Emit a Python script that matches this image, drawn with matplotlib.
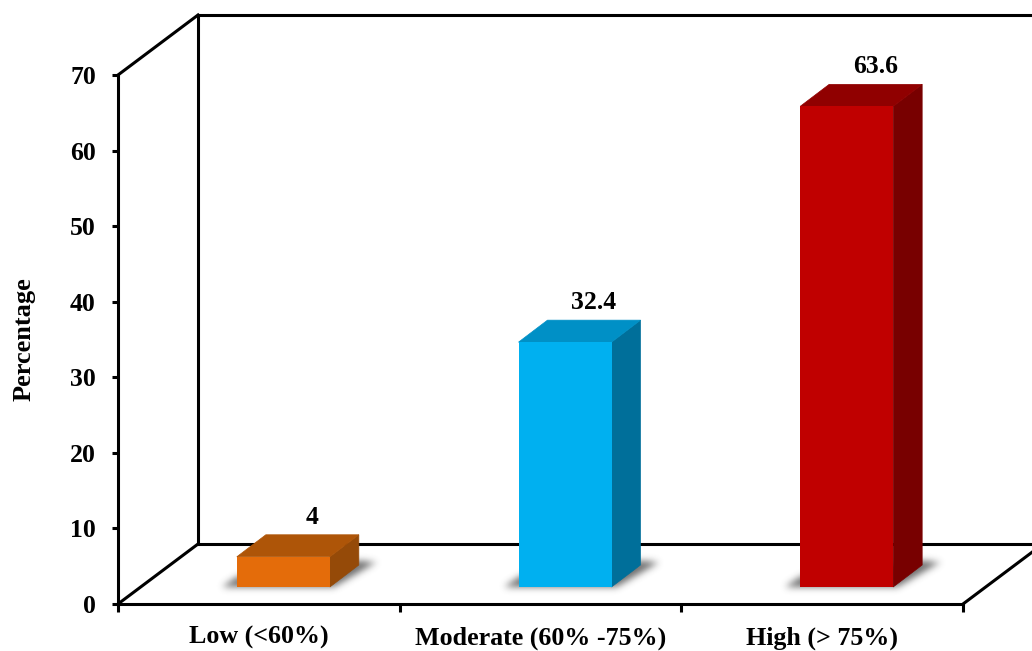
import numpy as np
import matplotlib
matplotlib.use('Agg')
import matplotlib.pyplot as plt
from matplotlib.path import Path

categories = ['Low (<60%)', 'Moderate (60% -75%)', 'High (> 75%)']
values = [4, 32.4, 63.6]
labels = ['4', '32.4', '63.6']
yticks = [0, 10, 20, 30, 40, 50, 60, 70]

front_colors = ['#E46C0A', '#00B0F0', '#C00000']
top_colors = ['#AE5508', '#0090C6', '#900000']
side_colors = ['#954A08', '#006F9A', '#780000']

plt.rcParams['font.family'] = ['Liberation Serif', 'DejaVu Serif']
plt.rcParams['font.weight'] = 'bold'

W, H = 1032., 651.
fig = plt.figure(figsize=(W/100, H/100), dpi=100)
ax = fig.add_axes([118/W, (H-604)/H, 845/W, 529/H])
ax.set_xlim(0, 3)
ax.set_ylim(0, 70)

# pixel sizes turned into data units
px = 3/845.
py = 70/529.
wall_dx = 80*px
wall_dy = 60*py
bar_dx = 24.5*px
bar_dy = 17*py
depth_dx = 29*px
depth_dy = 22*py
bar_w = 93*px

def draw_shadow(sx, sy):
    # polygon mask blurred on a 1 px grid, drawn as an image on the floor
    x0, x1 = min(sx)-16*px, max(sx)+16*px
    y0, y1 = min(sy)-16*py, max(sy)+16*py
    xs = np.arange(x0, x1, px)
    ys = np.arange(y0, y1, py)
    xg, yg = np.meshgrid(xs, ys)
    pts = np.column_stack([xg.ravel(), yg.ravel()])
    mask = Path(np.column_stack([sx, sy])).contains_points(pts).reshape(xg.shape).astype(float)
    kern = np.exp(-np.arange(-10, 11)**2/(2*3.5**2))
    kern = kern/kern.sum()
    mask = np.apply_along_axis(lambda r: np.convolve(r, kern, mode='same'), 0, mask)
    mask = np.apply_along_axis(lambda r: np.convolve(r, kern, mode='same'), 1, mask)
    rgba = np.zeros(mask.shape + (4,))
    rgba[..., :3] = 0.25
    rgba[..., 3] = mask*0.75
    ax.imshow(rgba, extent=[x0, x1, y0, y1], origin='lower', aspect='auto',
              zorder=2, interpolation='bilinear')

# walls of the 3d box
lw = 2.2
wall = dict(color='black', lw=lw, clip_on=False, zorder=1, solid_capstyle='projecting')
ax.plot([0, wall_dx], [0, wall_dy], **wall)
ax.plot([0, wall_dx], [70, 70+wall_dy], **wall)
ax.plot([wall_dx, wall_dx], [wall_dy, 70+wall_dy], **wall)
ax.plot([wall_dx, 3+wall_dx], [70+wall_dy, 70+wall_dy], **wall)
ax.plot([wall_dx, 3+wall_dx], [wall_dy, wall_dy], **wall)
ax.plot([3, 3+wall_dx], [0, wall_dy], **wall)

x = np.arange(len(values)) + 0.5
left = x + bar_dx - bar_w/2
right = left + bar_w

for i in range(len(values)):
    sx = [left[i]-16*px, right[i]+3*px, right[i]+depth_dx+17*px, right[i]+depth_dx, left[i]]
    sy = [bar_dy-1*py, bar_dy-1*py, bar_dy+depth_dy+2*py, bar_dy+depth_dy+4*py, bar_dy+10*py]
    draw_shadow(sx, sy)

    top = values[i] + bar_dy
    ax.fill([right[i], right[i]+depth_dx, right[i]+depth_dx, right[i]],
            [bar_dy, bar_dy+depth_dy, top+depth_dy, top],
            color=side_colors[i], lw=0.5, zorder=3, clip_on=False)
    ax.fill([left[i], right[i], right[i]+depth_dx, left[i]+depth_dx],
            [top, top, top+depth_dy, top+depth_dy],
            color=top_colors[i], lw=0.5, zorder=3, clip_on=False)
    ax.text(x[i]+bar_dx+depth_dx, top+depth_dy+0.8, labels[i], ha='center', va='bottom',
            fontsize=18.5, fontweight='bold', zorder=5, clip_on=False)

ax.bar(x+bar_dx, values, bar_w, bottom=bar_dy, color=front_colors, zorder=4)

ax.set_xlim(0, 3)
ax.set_ylim(0, 70)

for s in ['top', 'right']:
    ax.spines[s].set_visible(False)
ax.spines['left'].set_linewidth(lw)
ax.spines['bottom'].set_linewidth(lw)

ax.set_yticks(yticks)
ax.set_xticks([0, 1, 2, 3])
ax.set_xticklabels([])
ax.set_xticks(x, minor=True)
ax.set_xticklabels(categories, minor=True, fontsize=18.7, fontweight='bold')
ax.tick_params(axis='x', which='major', length=6, width=lw, direction='out')
ax.tick_params(axis='x', which='minor', length=0, pad=16)
ax.tick_params(axis='y', length=4, width=lw, labelsize=18.5, pad=12)
for t in ax.get_yticklabels():
    t.set_fontweight('bold')

ax.set_ylabel('Percentage', fontsize=19, fontweight='bold')
ax.yaxis.set_label_coords(-82/845., 0.5)

fig.savefig('out.png', dpi=100)
